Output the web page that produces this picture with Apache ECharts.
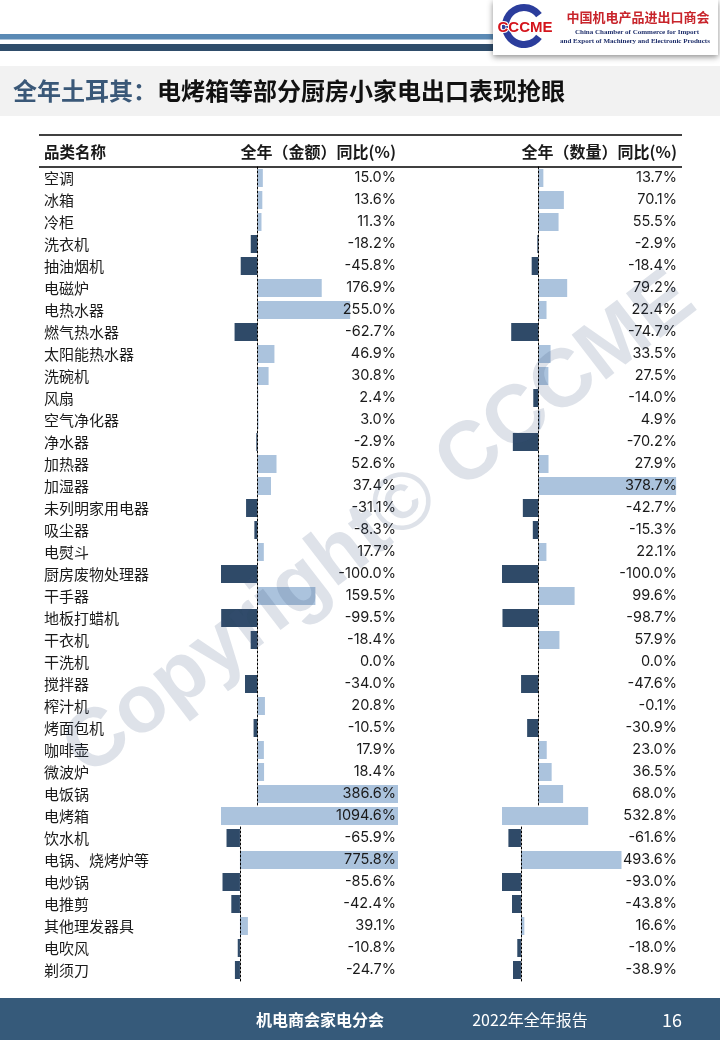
<!DOCTYPE html>
<html>
<head>
<meta charset="utf-8">
<script src="https://cdn.jsdelivr.net/npm/echarts@6/dist/echarts.min.js"></script>
<style>
html,body{margin:0;padding:0;background:#fff;}
#chart{width:720px;height:1040px;}
</style>
</head>
<body>
<div id="chart"></div>
<script>
const categories = ['空调','冰箱','冷柜','洗衣机','抽油烟机','电磁炉','电热水器','燃气热水器','太阳能热水器','洗碗机','风扇','空气净化器','净水器','加热器','加湿器','未列明家用电器','吸尘器','电熨斗','厨房废物处理器','干手器','地板打蜡机','干衣机','干洗机','搅拌器','榨汁机','烤面包机','咖啡壶','微波炉','电饭锅','电烤箱','饮水机','电锅、烧烤炉等','电炒锅','电推剪','其他理发器具','电吹风','剃须刀'];
const amountYoY = [15.0,13.6,11.3,-18.2,-45.8,176.9,255.0,-62.7,46.9,30.8,2.4,3.0,-2.9,52.6,37.4,-31.1,-8.3,17.7,-100.0,159.5,-99.5,-18.4,0.0,-34.0,20.8,-10.5,17.9,18.4,386.6,1094.6,-65.9,775.8,-85.6,-42.4,39.1,-10.8,-24.7];
const quantityYoY = [13.7,70.1,55.5,-2.9,-18.4,79.2,22.4,-74.7,33.5,27.5,-14.0,4.9,-70.2,27.9,378.7,-42.7,-15.3,22.1,-100.0,99.6,-98.7,57.9,0.0,-47.6,-0.1,-30.9,23.0,36.5,68.0,532.8,-61.6,493.6,-93.0,-43.8,16.6,-18.0,-38.9];
// data-bar scaling groups (row ranges sharing one scale)
const groupBreaks = [0, 29, 30, 37];
const headers = ['品类名称', '全年（金额）同比(%)', '全年（数量）同比(%)'];
const titleLead = '全年土耳其：';
const titleRest = '电烤箱等部分厨房小家电出口表现抢眼';

const FONT = 'Inter, "Noto Sans CJK SC", sans-serif';
const CJK = '"Noto Sans CJK SC", sans-serif';
const POS = '#abc3dd', NEG = '#2f4a68', TXT = '#1a1a1a';
const rowH = 22, tableTop = 167, cellW = 177;
const colLeft = [221, 502];
const cols = [amountYoY, quantityYoY];

const grid = [], xAxis = [], yAxis = [], series = [];
for (let g = 0; g < groupBreaks.length - 1; g++) {
  const s = groupBreaks[g], e = groupBreaks[g + 1];
  const all = amountYoY.slice(s, e).concat(quantityYoY.slice(s, e));
  const mn = Math.min(0, ...all), mx = Math.max(0, ...all);
  const cats = categories.slice(s, e);
  for (let c = 0; c < 2; c++) {
    const gi = grid.length;
    grid.push({left: colLeft[c], top: tableTop + s * rowH, width: cellW, height: (e - s) * rowH});
    xAxis.push({gridIndex: gi, type: 'value', min: mn, max: mx,
      axisLine: {show: false}, axisTick: {show: false}, axisLabel: {show: false}, splitLine: {show: false}});
    const zeroIdx = yAxis.length;
    yAxis.push({gridIndex: gi, type: 'category', data: cats, inverse: true, z: 3,
      axisLine: {show: mn < 0, onZero: true, lineStyle: {color: '#000', width: 1, type: [2, 2]}},
      axisTick: {show: false}, axisLabel: {show: false}, splitLine: {show: false}});
    yAxis.push({gridIndex: gi, type: 'category', position: 'right', inverse: true, z: 10,
      data: cols[c].slice(s, e).map(v => v.toFixed(1) + '%'),
      axisLine: {show: false, onZero: false}, axisTick: {show: false},
      axisLabel: {inside: true, margin: 2, fontSize: 14.5, color: TXT, fontFamily: FONT}});
    if (c === 0) {
      yAxis.push({gridIndex: gi, type: 'category', position: 'left', inverse: true, z: 10, data: cats,
        axisLine: {show: false, onZero: false}, axisTick: {show: false},
        axisLabel: {margin: 177, align: 'left', fontSize: 15, color: TXT, fontFamily: CJK}});
    }
    series.push({type: 'bar', xAxisIndex: gi, yAxisIndex: zeroIdx, barWidth: 18, silent: true,
      data: cols[c].slice(s, e),
      itemStyle: {color: p => p.value < 0 ? NEG : POS}});
  }
}

const graphic = [
  // header stripes
  {type: 'rect', shape: {x: 0, y: 34, width: 495, height: 5.5}, style: {fill: '#5b8ab5'}},
  {type: 'rect', shape: {x: 0, y: 44, width: 495, height: 7}, style: {fill: '#2f4d6b'}},
  // logo box
  {type: 'rect', shape: {x: 493, y: 0, width: 225, height: 55}, style: {fill: '#fff', shadowBlur: 6, shadowColor: 'rgba(0,0,0,0.45)', shadowOffsetY: 2}, z: 5},
  {type: 'sector', shape: {cx: 524, cy: 26, r: 22, r0: 15, startAngle: Math.PI * 0.2, endAngle: Math.PI * 1.8}, style: {fill: '#2b3d9c'}, z: 6},
  {type: 'text', style: {text: 'CCCME', x: 525, y: 28, align: 'center', verticalAlign: 'middle', font: 'bold 15px "Liberation Sans Narrow", "Liberation Sans", sans-serif', fill: '#d4141c', stroke: '#fff', lineWidth: 2}, z: 7},
  {type: 'text', style: {text: '中国机电产品进出口商会', x: 638, y: 17, align: 'center', verticalAlign: 'middle', font: 'bold 13px ' + CJK, fill: '#c8242b'}, z: 7},
  {type: 'text', style: {text: 'China Chamber of Commerce for Import', x: 637, y: 32, align: 'center', verticalAlign: 'middle', font: 'bold 7px "Liberation Serif", serif', fill: '#1f2f6b'}, z: 7},
  {type: 'text', style: {text: 'and Export of Machinery and Electronic Products', x: 635, y: 41, align: 'center', verticalAlign: 'middle', font: 'bold 7px "Liberation Serif", serif', fill: '#1f2f6b'}, z: 7},
  // title band
  {type: 'rect', shape: {x: 0, y: 66, width: 720, height: 50}, style: {fill: '#f2f2f2'}},
  {type: 'text', style: {x: 13, y: 91, verticalAlign: 'middle',
    text: '{a|' + titleLead + '}{b|' + titleRest + '}',
    rich: {a: {fontSize: 24, fontWeight: 'bold', fill: '#3a5878', fontFamily: CJK},
           b: {fontSize: 24, fontWeight: 'bold', fill: '#111', fontFamily: CJK}}}},
  // table header lines
  {type: 'line', shape: {x1: 39, y1: 135, x2: 682, y2: 135}, style: {stroke: '#000', lineWidth: 1.3}},
  {type: 'line', shape: {x1: 39, y1: 167, x2: 682, y2: 167}, style: {stroke: '#000', lineWidth: 1.3}},
  {type: 'text', style: {text: headers[0], x: 44, y: 152, verticalAlign: 'middle', font: 'bold 15.5px ' + CJK, fill: TXT}},
  {type: 'text', style: {text: headers[1], x: 396, y: 152, align: 'right', verticalAlign: 'middle', font: 'bold 16px ' + CJK, fill: TXT}},
  {type: 'text', style: {text: headers[2], x: 677, y: 152, align: 'right', verticalAlign: 'middle', font: 'bold 16px ' + CJK, fill: TXT}},
  // footer
  {type: 'rect', shape: {x: 0, y: 998, width: 720, height: 42}, style: {fill: '#365a7a'}},
  {type: 'text', style: {text: '机电商会家电分会', x: 320, y: 1020, align: 'center', verticalAlign: 'middle', font: 'bold 16px ' + CJK, fill: '#fff'}},
  {type: 'text', style: {text: '2022年全年报告', x: 530, y: 1020, align: 'center', verticalAlign: 'middle', font: '16px ' + CJK, fill: '#fff'}},
  {type: 'text', style: {text: '16', x: 672, y: 1020, align: 'center', verticalAlign: 'middle', font: '18px ' + CJK, fill: '#fff'}},
  // watermark
  {type: 'text', z: 100, x: 380, y: 525, rotation: 0.656,
    style: {text: 'Copyright© CCCME', x: 0, y: 0, align: 'center', verticalAlign: 'middle',
      font: 'bold 82px "Liberation Sans", Arial, sans-serif', fill: 'rgba(60,85,125,0.17)'}}
];

const chart = echarts.init(document.getElementById('chart'), null, {renderer: 'canvas'});
chart.setOption({animation: false, grid, xAxis, yAxis, series, graphic});
</script>
</body>
</html>
